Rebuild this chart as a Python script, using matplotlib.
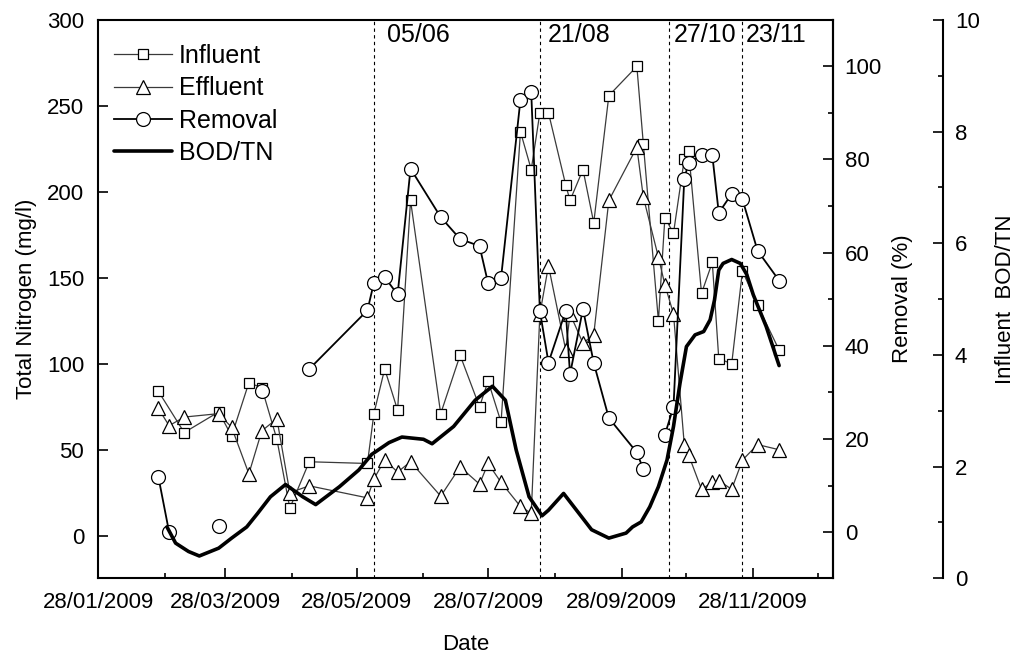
import matplotlib
matplotlib.use('Agg')
import matplotlib.pyplot as plt
import matplotlib.dates as mdates
import numpy as np
import pandas as pd
from matplotlib.ticker import FixedLocator, MultipleLocator

plt.rcParams['font.family'] = ['Liberation Sans', 'DejaVu Sans']

# ---------------- data ----------------
inf_dates = ['2009-02-25', '2009-03-09', '2009-03-25', '2009-03-31', '2009-04-08', '2009-04-14',
             '2009-04-21', '2009-04-27', '2009-05-06', '2009-06-02', '2009-06-05', '2009-06-10',
             '2009-06-16', '2009-06-22', '2009-07-06', '2009-07-15', '2009-07-24', '2009-07-28',
             '2009-08-03', '2009-08-12', '2009-08-17', '2009-08-21', '2009-08-25', '2009-09-02',
             '2009-09-04', '2009-09-10', '2009-09-15', '2009-09-22', '2009-10-05', '2009-10-08',
             '2009-10-15', '2009-10-18', '2009-10-22', '2009-10-27', '2009-10-29', '2009-11-04',
             '2009-11-09', '2009-11-12', '2009-11-18', '2009-11-23', '2009-11-30', '2009-12-10']
inf_tn = [84, 60, 72, 58, 89, 86,
          56, 16, 43, 42, 71, 97,
          73, 195, 71, 105, 75, 90,
          66, 235, 213, 246, 246, 204,
          195, 213, 182, 256, 273, 228,
          125, 185, 176, 219, 224, 141,
          159, 103, 100, 154, 134, 108]

eff_dates = ['2009-02-25', '2009-03-02', '2009-03-09', '2009-03-25', '2009-03-31', '2009-04-08',
             '2009-04-14', '2009-04-21', '2009-04-27', '2009-05-06', '2009-06-02', '2009-06-05',
             '2009-06-10', '2009-06-16', '2009-06-22', '2009-07-06', '2009-07-15', '2009-07-24',
             '2009-07-28', '2009-08-03', '2009-08-12', '2009-08-17', '2009-08-21', '2009-08-25',
             '2009-09-02', '2009-09-04', '2009-09-10', '2009-09-15', '2009-09-22', '2009-10-05',
             '2009-10-08', '2009-10-15', '2009-10-18', '2009-10-22', '2009-10-27', '2009-10-29',
             '2009-11-04', '2009-11-09', '2009-11-12', '2009-11-18', '2009-11-23', '2009-11-30',
             '2009-12-10']
eff_tn = [74, 64, 69, 71, 63, 36,
          61, 68, 25, 29, 22, 33,
          44, 37, 43, 23, 40, 30,
          42, 31, 17, 13, 129, 157,
          108, 129, 112, 117, 195, 226,
          197, 162, 146, 129, 53, 47,
          27, 31, 32, 27, 44, 53,
          50]

rem_dates = ['2009-02-25', '2009-03-02', '2009-03-09', '2009-03-25', '2009-03-31', '2009-04-14',
             '2009-04-27', '2009-05-06', '2009-06-02', '2009-06-05', '2009-06-10', '2009-06-16',
             '2009-06-22', '2009-07-06', '2009-07-15', '2009-07-24', '2009-07-28', '2009-08-03',
             '2009-08-12', '2009-08-17', '2009-08-21', '2009-08-25', '2009-09-02', '2009-09-04',
             '2009-09-10', '2009-09-15', '2009-09-22', '2009-10-05', '2009-10-08', '2009-10-15',
             '2009-10-18', '2009-10-22', '2009-10-27', '2009-10-29', '2009-11-04', '2009-11-09',
             '2009-11-12', '2009-11-18', '2009-11-23', '2009-11-30', '2009-12-10']
rem_pct = [11.9, 0.0, np.nan, 1.4, np.nan, 30.2,
           np.nan, 35.0, 47.6, 53.5, 54.7, 51.0,
           78.0, 67.6, 62.9, 61.4, 53.4, 54.6,
           92.8, 94.4, 47.5, 36.4, 47.5, 33.9,
           47.9, 36.3, 24.5, 17.1, 13.5, np.nan,
           20.9, 26.9, 75.8, 79.3, 80.9, 80.9,
           68.5, 72.6, 71.4, 60.4, 54.0]

bod_dates = ['2009-03-01', '2009-03-05', '2009-03-11', '2009-03-16', '2009-03-25', '2009-03-31',
             '2009-04-07', '2009-04-12', '2009-04-18', '2009-04-25', '2009-05-03', '2009-05-09',
             '2009-05-20', '2009-05-29', '2009-06-04', '2009-06-12', '2009-06-18', '2009-06-28',
             '2009-07-02', '2009-07-12', '2009-07-22', '2009-07-30', '2009-08-05', '2009-08-10',
             '2009-08-16', '2009-08-22', '2009-08-25', '2009-09-01', '2009-09-07', '2009-09-14',
             '2009-09-22', '2009-09-30', '2009-10-03', '2009-10-07', '2009-10-11', '2009-10-15',
             '2009-10-19', '2009-10-22', '2009-10-25', '2009-10-28', '2009-11-01', '2009-11-05',
             '2009-11-08', '2009-11-10', '2009-11-12', '2009-11-14', '2009-11-18', '2009-11-22',
             '2009-11-25', '2009-11-28', '2009-12-04', '2009-12-10']
bod_ratio = [0.92, 0.63, 0.48, 0.40, 0.54, 0.72,
             0.92, 1.16, 1.46, 1.68, 1.46, 1.32,
             1.64, 1.94, 2.22, 2.43, 2.53, 2.49,
             2.41, 2.72, 3.19, 3.44, 3.19, 2.30,
             1.46, 1.12, 1.22, 1.52, 1.22, 0.87,
             0.72, 0.81, 0.92, 1.01, 1.28, 1.64,
             2.12, 2.72, 3.49, 4.15, 4.36, 4.42,
             4.63, 4.98, 5.52, 5.64, 5.71, 5.64,
             5.44, 5.08, 4.51, 3.81]

event_dates = ['2009-06-05', '2009-08-21', '2009-10-20', '2009-11-23']
event_labels = ['05/06', '21/08', '27/10', '23/11']

# ---------------- figure ----------------
W, H = 1023, 662
fig = plt.figure(figsize=(W / 100, H / 100), dpi=100)
L, R, T, B = 98, 833, 20, 578.3
ax1 = fig.add_axes([L / W, 1 - B / H, (R - L) / W, (B - T) / H])
ax2 = ax1.twinx()
ax3 = ax1.twinx()
ax1.set_facecolor('white')
ax2.patch.set_visible(False)
ax3.patch.set_visible(False)

to_dt = pd.to_datetime
line_grey = '#3a3a3a'

h_inf, = ax1.plot(to_dt(inf_dates), inf_tn, '-', color=line_grey, lw=0.9,
                  marker='s', ms=6.5, mfc='white', mec='black', mew=0.9, label='Influent')
h_eff, = ax1.plot(to_dt(eff_dates), eff_tn, '-', color=line_grey, lw=0.9,
                  marker='^', ms=10.5, mfc='white', mec='black', mew=0.9, label='Effluent')
h_rem, = ax2.plot(to_dt(rem_dates), rem_pct, '-', color='black', lw=1.3,
                  marker='o', ms=10, mfc='white', mec='black', mew=0.9, label='Removal')
h_bod, = ax3.plot(to_dt(bod_dates), bod_ratio, '-', color='black', lw=2.6,
                  solid_capstyle='round', solid_joinstyle='round', label='BOD/TN')

# vertical event lines and labels
label_offsets_px = [13, 8, 5, 3.5]
for d, lab, off in zip(event_dates, event_labels, label_offsets_px):
    ax1.axvline(to_dt(d), color='black', lw=0.8, ls=(0, (3, 3)), zorder=1)
    ax1.annotate(lab, xy=(to_dt(d), 1.0), xycoords=('data', 'axes fraction'),
                 xytext=(off * 0.72, -10.5), textcoords='offset points',
                 ha='left', va='center', fontsize=18)

# x axis
ax1.set_xlim(to_dt('2009-01-28'), to_dt('2010-01-04'))
ax1.xaxis.set_major_locator(mdates.MonthLocator(bymonth=[1, 3, 5, 7, 9, 11], bymonthday=28))
ax1.xaxis.set_minor_locator(mdates.MonthLocator(bymonthday=28))
ax1.xaxis.set_major_formatter(mdates.DateFormatter('%d/%m/%Y'))

# y axes
ax1.set_ylim(-24.8, 300)
ax1.yaxis.set_major_locator(FixedLocator([0, 50, 100, 150, 200, 250, 300]))
ax2.set_ylim(-9.9, 109.9)
ax2.yaxis.set_major_locator(FixedLocator([0, 20, 40, 60, 80, 100]))
ax2.yaxis.set_minor_locator(FixedLocator([10, 30, 50, 70, 90]))
ax3.set_ylim(0, 10)
ax3.yaxis.set_major_locator(MultipleLocator(2))
ax3.yaxis.set_minor_locator(FixedLocator([1, 3, 5, 7, 9]))

ax1.tick_params(axis='x', which='major', direction='in', length=7, width=1.2, labelsize=16, pad=10)
ax1.tick_params(axis='x', which='minor', direction='in', length=3.6, width=1.2)
ax1.tick_params(axis='y', which='major', direction='in', length=7, width=1.2, labelsize=16, pad=10)
ax2.tick_params(axis='y', which='major', direction='in', length=7, width=1.2, labelsize=16, pad=8.4)
ax2.tick_params(axis='y', which='minor', direction='in', length=3.6, width=1.2)
ax3.tick_params(axis='y', which='major', direction='in', length=7, width=1.2, labelsize=16, pad=8.6)
ax3.tick_params(axis='y', which='minor', direction='in', length=3.6, width=1.2)

for a in (ax1, ax2):
    for s in a.spines.values():
        s.set_linewidth(1.5)
for k in ('left', 'top', 'bottom'):
    ax3.spines[k].set_visible(False)
    ax2.spines[k].set_visible(False)
ax3.spines['right'].set_position(('outward', 110 * 0.72))
ax3.spines['right'].set_linewidth(1.5)

# axis labels
ax1.set_ylabel('Total Nitrogen (mg/l)', fontsize=16)
ax1.yaxis.set_label_coords(-0.083, 0.5)
ax1.set_xlabel('Date', fontsize=16)
ax1.xaxis.set_label_coords(0.5, -0.099)
ax2.set_ylabel('Removal (%)', fontsize=16)
ax2.yaxis.set_label_coords(1.080, 0.5)
ax3.set_ylabel('Influent  BOD/TN', fontsize=16)
ax3.yaxis.set_label_coords(1.220, 0.5)

# legend
leg = ax3.legend(handles=[h_inf, h_eff, h_rem, h_bod], loc='upper left',
                 bbox_to_anchor=(0.022, 0.957), frameon=False, fontsize=18,
                 handlelength=2.3, handletextpad=0.3, labelspacing=0.33,
                 borderpad=0, borderaxespad=0, numpoints=1)

fig.savefig('out.png', dpi=100)
